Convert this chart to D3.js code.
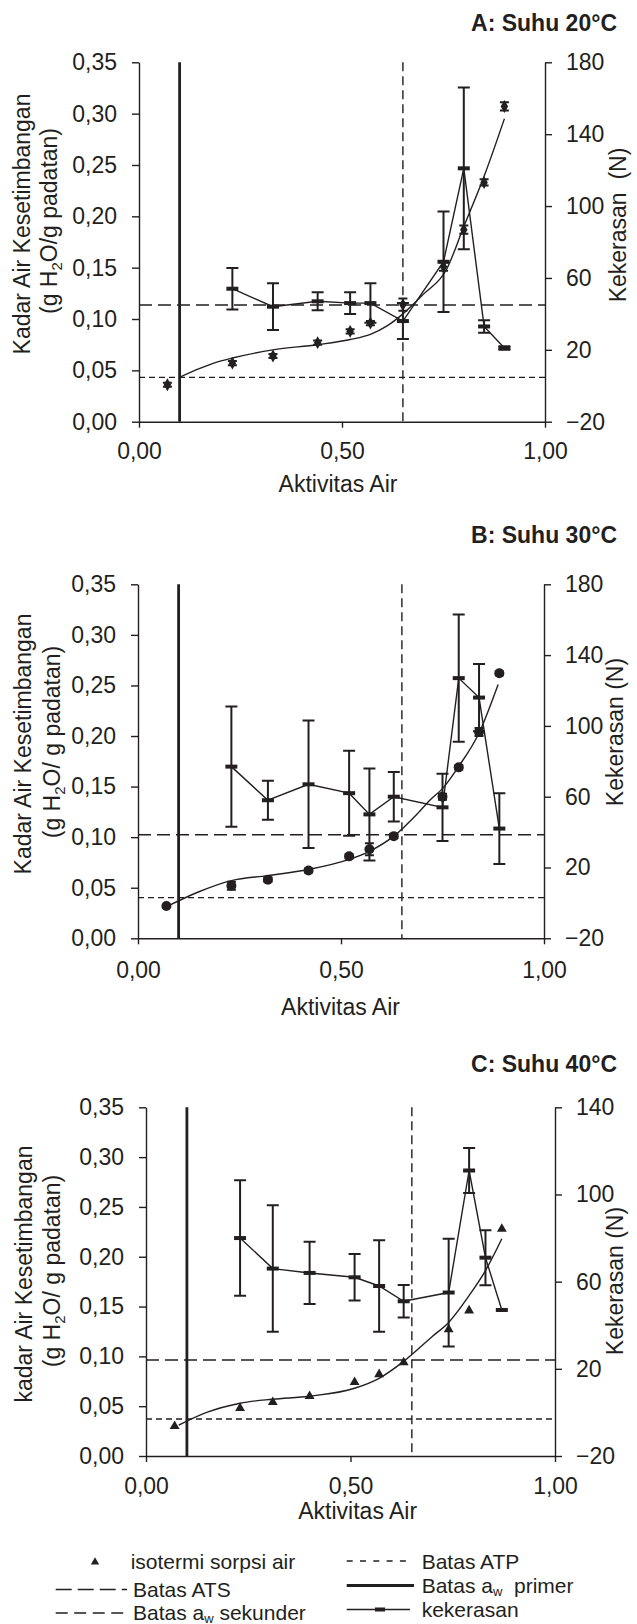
<!DOCTYPE html>
<html>
<head>
<meta charset="utf-8">
<script src="https://cdn.jsdelivr.net/npm/d3@7"></script>
<style>
  body { margin: 0; background: #fff; }
  text { font-family: "Liberation Sans", Arial, sans-serif; fill: #231f20; }
</style>
</head>
<body>
<svg id="chart" width="637" height="1624"></svg>
<script>
// axis ticks
const ticksX = [0, 0.5, 1]
const ticksLeft = [0, 0.05, 0.1, 0.15, 0.2, 0.25, 0.3, 0.35]
const ticksRightAB = [-20, 20, 60, 100, 140, 180]
const ticksRightC = [-20, 20, 60, 100, 140]

// A: 20°C  sorption (left axis) and hardness (right axis)
const sorpAwA = [0.07, 0.23, 0.33, 0.44, 0.52, 0.57, 0.65, 0.75, 0.80, 0.85, 0.90]
const sorpA = [0.036, 0.057, 0.064, 0.077, 0.088, 0.096, 0.114, 0.151, 0.187, 0.233, 0.307]
const sorpErrA = [0.002, 0.002, 0.002, 0.002, 0.002, 0.002, 0.006, 0.004, 0.004, 0.003, 0.004]
const hardAwA = [0.23, 0.33, 0.44, 0.52, 0.57, 0.65, 0.75, 0.80, 0.85, 0.90]
const hardA = [54, 44, 47, 46, 46, 36, 69, 121, 33, 21]
const hardErrA = [11.5, 13, 5, 6, 11, 10, 28, 45, 3.5, 1]
const curveAwA = [0.098, 0.15, 0.2, 0.23, 0.33, 0.44, 0.52, 0.57, 0.61, 0.65, 0.7, 0.757, 0.8, 0.85, 0.9]
const curveA = [0.043, 0.052, 0.059, 0.062, 0.070, 0.075, 0.080, 0.085, 0.093, 0.105, 0.124, 0.148, 0.19, 0.239, 0.295]

// B: 30°C
const sorpAwB = [0.07, 0.23, 0.32, 0.42, 0.52, 0.57, 0.63, 0.75, 0.79, 0.84, 0.89]
const sorpB = [0.032, 0.052, 0.058, 0.067, 0.081, 0.088, 0.101, 0.140, 0.169, 0.204, 0.262]
const sorpErrB = [0.001, 0.004, 0.002, 0.002, 0.002, 0.006, 0.002, 0.003, 0.002, 0.004, 0.002]
const hardAwB = [0.23, 0.32, 0.42, 0.52, 0.57, 0.63, 0.75, 0.79, 0.84, 0.89]
const hardB = [77, 58, 67, 62, 50, 60, 54, 127, 116, 42]
const hardErrB = [34, 11, 36, 24, 26, 14, 19, 36, 19, 20]
const curveAwB = [0.069, 0.15, 0.23, 0.32, 0.42, 0.52, 0.57, 0.63, 0.69, 0.72, 0.75, 0.79, 0.84, 0.887]
const curveB = [0.031, 0.046, 0.057, 0.062, 0.068, 0.078, 0.086, 0.101, 0.124, 0.137, 0.148, 0.17, 0.203, 0.251]

// C: 40°C
const sorpAwC = [0.07, 0.23, 0.31, 0.40, 0.51, 0.57, 0.63, 0.74, 0.79, 0.87]
const sorpC = [0.030, 0.048, 0.054, 0.060, 0.074, 0.082, 0.094, 0.127, 0.146, 0.228]
const sorpErrC = [0, 0, 0, 0, 0, 0, 0, 0, 0, 0]
const hardAwC = [0.23, 0.31, 0.40, 0.51, 0.57, 0.63, 0.74, 0.79, 0.83, 0.87]
const hardC = [80, 66, 64, 62, 58, 51, 55, 111, 71, 47]
const hardErrC = [26.5, 29, 14.3, 10.7, 21, 7.5, 24.7, 10.3, 12.6, 0]
const curveAwC = [0.08, 0.15, 0.23, 0.31, 0.40, 0.51, 0.57, 0.63, 0.70, 0.74, 0.79, 0.83, 0.87]
const curveC = [0.031, 0.044, 0.053, 0.057, 0.060, 0.068, 0.078, 0.095, 0.12, 0.134, 0.161, 0.186, 0.218]

// batas (limits): ATP, ATS, aw primer, aw sekunder
const batasA = [0.0432, 0.1136, 0.1, 0.65]
const batasB = [0.0402, 0.1024, 0.1, 0.65]
const batasC = [0.0371, 0.0963, 0.1, 0.65]

const ink = '#231f20'
const comma = d3.formatLocale({decimal: ',', thousands: '.', grouping: [3], currency: ['', '']}).format('.2f')
const svg = d3.select('#chart')

const panels = [
  {title: 'A: Suhu 20°C', titleY: 30.7, x0: 139, x1: 545, yT: 62.3, yB: 421.7,
   rDomain: [-20, 180], rTicks: ticksRightAB, marker: 'diamond',
   sorpAw: sorpAwA, sorp: sorpA, sorpErr: sorpErrA, hardAw: hardAwA, hard: hardA, hardErr: hardErrA,
   curveAw: curveAwA, curve: curveA, batas: batasA,
   yt1: 'Kadar Air Kesetimbangan', yt2: 'O/g padatan)', yt1Y: 224, yt2Y: 221, yt1X: 29.5, yt2X: 57,
   rt: 'Kekerasan\u00a0\u00a0(N)', rtY: 225, rtX: 626, xlabX: 338, xlabY: 491.7, xPad: 15},
  {title: 'B: Suhu 30°C', titleY: 543, x0: 138, x1: 544, yT: 584.3, yB: 938.3,
   rDomain: [-20, 180], rTicks: ticksRightAB, marker: 'circle',
   sorpAw: sorpAwB, sorp: sorpB, sorpErr: sorpErrB, hardAw: hardAwB, hard: hardB, hardErr: hardErrB,
   curveAw: curveAwB, curve: curveB, batas: batasB,
   yt1: 'Kadar Air Kesetimbangan', yt2: 'O/ g padatan)', yt1Y: 744, yt2Y: 742, yt1X: 31, yt2X: 60,
   rt: 'Kekerasan (N)', rtY: 732, rtX: 622.5, xlabX: 340.5, xlabY: 1015, xPad: 17},
  {title: 'C: Suhu 40°C', titleY: 1071.5, x0: 146, x1: 555, yT: 1107.3, yB: 1456,
   rDomain: [-20, 140], rTicks: ticksRightC, marker: 'triangle',
   sorpAw: sorpAwC, sorp: sorpC, sorpErr: sorpErrC, hardAw: hardAwC, hard: hardC, hardErr: hardErrC,
   curveAw: curveAwC, curve: curveC, batas: batasC,
   yt1: 'kadar Air Kesetimbangan', yt2: 'O/ g padatan)', yt1Y: 1274, yt2Y: 1271, yt1X: 31.5, yt2X: 60,
   rt: 'Kekerasan (N)', rtY: 1281, rtX: 622.5, xlabX: 357.7, xlabY: 1519, xPad: 15.5}
]

function errBar(xp, y1, y2, w) {
  return `M${xp - w},${y1}H${xp + w}M${xp},${y1}V${y2}M${xp - w},${y2}H${xp + w}`
}

function drawPanel(p) {
  const g = svg.append('g')
  const x = d3.scaleLinear().domain([0, 1]).range([p.x0, p.x1])
  const yL = d3.scaleLinear().domain([0, 0.35]).range([p.yB, p.yT])
  const yR = d3.scaleLinear().domain(p.rDomain).range([p.yB, p.yT])

  // title
  g.append('text').attr('x', 617).attr('y', p.titleY).attr('text-anchor', 'end')
    .style('font-size', '23px').style('font-weight', 'bold').text(p.title)

  // batas lines
  const [atp, ats, primer, sekunder] = p.batas
  g.append('line').attr('x1', p.x0).attr('x2', p.x1).attr('y1', yL(atp)).attr('y2', yL(atp))
    .attr('stroke', ink).attr('stroke-width', 1.4).attr('stroke-dasharray', '6,4')
  g.append('line').attr('x1', p.x0).attr('x2', p.x1).attr('y1', yL(ats)).attr('y2', yL(ats))
    .attr('stroke', ink).attr('stroke-width', 1.4).attr('stroke-dasharray', '13,6')
  g.append('line').attr('x1', x(primer)).attr('x2', x(primer)).attr('y1', p.yT).attr('y2', p.yB)
    .attr('stroke', ink).attr('stroke-width', 2.8)
  g.append('line').attr('x1', x(sekunder)).attr('x2', x(sekunder)).attr('y1', p.yT).attr('y2', p.yB)
    .attr('stroke', ink).attr('stroke-width', 1.4).attr('stroke-dasharray', '9,5')

  // sorption model curve
  const curveLine = d3.line().x(d => x(d[0])).y(d => yL(d[1])).curve(d3.curveMonotoneX)
  g.append('path').datum(d3.zip(p.curveAw, p.curve)).attr('d', curveLine)
    .attr('fill', 'none').attr('stroke', ink).attr('stroke-width', 1.4)

  // hardness line + error bars + markers
  const hard = p.hardAw.map((a, i) => ({aw: a, v: p.hard[i], e: p.hardErr[i]}))
  g.append('path').datum(hard).attr('d', d3.line().x(d => x(d.aw)).y(d => yR(d.v)))
    .attr('fill', 'none').attr('stroke', ink).attr('stroke-width', 1.4)
  g.selectAll('.herr').data(hard.filter(d => d.e > 0)).enter().append('path')
    .attr('d', d => errBar(x(d.aw), yR(d.v + d.e), yR(d.v - d.e), 6))
    .attr('fill', 'none').attr('stroke', ink).attr('stroke-width', 2)
  g.selectAll('.hmark').data(hard).enter().append('rect')
    .attr('x', d => x(d.aw) - 6).attr('y', d => yR(d.v) - 2).attr('width', 12).attr('height', 4)
    .attr('fill', ink)

  // sorption points
  const sorp = p.sorpAw.map((a, i) => ({aw: a, v: p.sorp[i], e: p.sorpErr[i]}))
  g.selectAll('.serr').data(sorp.filter(d => d.e > 0)).enter().append('path')
    .attr('d', d => errBar(x(d.aw), yL(d.v + d.e), yL(d.v - d.e), 4.5))
    .attr('fill', 'none').attr('stroke', ink).attr('stroke-width', 2)
  if (p.marker === 'circle') {
    g.selectAll('.smark').data(sorp).enter().append('circle')
      .attr('cx', d => x(d.aw)).attr('cy', d => yL(d.v)).attr('r', 5).attr('fill', ink)
  } else {
    const sym = p.marker === 'diamond' ? d3.symbol(d3.symbolDiamond, 48) : d3.symbol(d3.symbolTriangle, 42)
    g.selectAll('.smark').data(sorp).enter().append('path')
      .attr('transform', d => `translate(${x(d.aw)},${yL(d.v)})`).attr('d', sym).attr('fill', ink)
  }

  // axes
  const styleAxis = sel => {
    sel.selectAll('path,line').attr('stroke', ink).attr('stroke-width', 1.4)
    sel.selectAll('text').style('font-size', '23px').attr('fill', ink)
      .style('font-family', '"Liberation Sans", Arial, sans-serif')
  }
  g.append('g').attr('transform', `translate(0,${p.yB})`)
    .call(d3.axisBottom(x).tickValues(ticksX).tickFormat(comma).tickSizeInner(6).tickSizeOuter(0).tickPadding(p.xPad))
    .call(styleAxis)
  g.append('g').attr('transform', `translate(${p.x0},0)`)
    .call(d3.axisLeft(yL).tickValues(ticksLeft).tickFormat(comma).tickSizeInner(7).tickSizeOuter(0).tickPadding(15))
    .call(styleAxis)
  g.append('g').attr('transform', `translate(${p.x1},0)`)
    .call(d3.axisRight(yR).tickValues(p.rTicks).tickFormat(d3.format('d')).tickSizeInner(7).tickSizeOuter(0).tickPadding(14))
    .call(styleAxis)

  // axis titles
  g.append('text').attr('x', p.xlabX).attr('y', p.xlabY).attr('text-anchor', 'middle')
    .style('font-size', '23px').text('Aktivitas Air')
  g.append('text').attr('transform', `translate(${p.yt1X},${p.yt1Y}) rotate(-90)`)
    .attr('text-anchor', 'middle').style('font-size', '23px').text(p.yt1)
  const t2 = g.append('text').attr('transform', `translate(${p.yt2X},${p.yt2Y}) rotate(-90)`)
    .attr('text-anchor', 'middle').style('font-size', '23px')
  t2.append('tspan').text('(g H')
  t2.append('tspan').attr('dy', 5).style('font-size', '15px').text('2')
  t2.append('tspan').attr('dy', -5).text(p.yt2)
  g.append('text').attr('transform', `translate(${p.rtX},${p.rtY}) rotate(-90)`)
    .attr('text-anchor', 'middle').style('font-size', '23px').text(p.rt)
}

panels.forEach(drawPanel)

// legend
const lg = svg.append('g')
lg.append('path').attr('transform', 'translate(95,1562)').attr('d', d3.symbol(d3.symbolTriangle, 30)).attr('fill', ink)
lg.append('line').attr('x1', 55.7).attr('x2', 127).attr('y1', 1589.5).attr('y2', 1589.5)
  .attr('stroke', ink).attr('stroke-width', 1.4).attr('stroke-dasharray', '16,6')
lg.append('line').attr('x1', 55.7).attr('x2', 127).attr('y1', 1613).attr('y2', 1613)
  .attr('stroke', ink).attr('stroke-width', 1.4).attr('stroke-dasharray', '12,6.5')
lg.append('line').attr('x1', 346.7).attr('x2', 410).attr('y1', 1561).attr('y2', 1561)
  .attr('stroke', ink).attr('stroke-width', 1.4).attr('stroke-dasharray', '6,7.3')
lg.append('line').attr('x1', 346.7).attr('x2', 414).attr('y1', 1585.5).attr('y2', 1585.5)
  .attr('stroke', ink).attr('stroke-width', 2.8)
lg.append('line').attr('x1', 346.7).attr('x2', 410).attr('y1', 1609.5).attr('y2', 1609.5)
  .attr('stroke', ink).attr('stroke-width', 1.4)
lg.append('rect').attr('x', 375).attr('y', 1607.5).attr('width', 10).attr('height', 4).attr('fill', ink)

const legendText = (xp, yp) => lg.append('text').attr('x', xp).attr('y', yp).style('font-size', '21px')
legendText(130.7, 1568.5).text('isotermi sorpsi air')
legendText(133, 1597).text('Batas ATS')
const sek = legendText(133, 1619.5)
sek.append('tspan').text('Batas a')
sek.append('tspan').attr('dy', 3).style('font-size', '13px').text('w')
sek.append('tspan').attr('dy', -3).text(' sekunder')
legendText(421.7, 1568.5).text('Batas ATP')
const pri = legendText(421.7, 1592.5)
pri.append('tspan').text('Batas a')
pri.append('tspan').attr('dy', 3).style('font-size', '13px').text('w')
pri.append('tspan').attr('dy', -3).text('\u00a0 primer')
legendText(421.7, 1616.5).text('kekerasan')
</script>
</body>
</html>
